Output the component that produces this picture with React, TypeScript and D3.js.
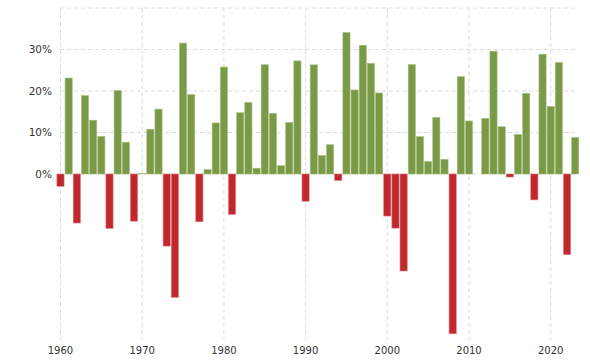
import React from 'react';
import * as d3 from 'd3';

const years = d3.range(1960, 2024);
// annual returns, %
const returns = [
  -2.97, 23.13, -11.81, 18.89, 12.97, 9.06, -13.09, 20.09, 7.66, -11.36,
  0.1, 10.79, 15.63, -17.37, -29.72, 31.55, 19.15, -11.5, 1.06, 12.31,
  25.77, -9.73, 14.76, 17.27, 1.4, 26.33, 14.62, 2.03, 12.4, 27.25,
  -6.56, 26.31, 4.46, 7.06, -1.54, 34.11, 20.26, 31.01, 26.67, 19.53,
  -10.14, -13.04, -23.37, 26.38, 8.99, 3.0, 13.62, 3.53, -38.49, 23.45,
  12.78, 0.0, 13.41, 29.6, 11.39, -0.73, 9.54, 19.42, -6.24, 28.88,
  16.26, 26.89, -19.44, 8.8,
];
const yTicks = [0, 10, 20, 30];
const xTicks = [1960, 1970, 1980, 1990, 2000, 2010, 2020];

const W = 590;
const H = 360;

export default function App() {
  const x = d3.scaleBand<number>().domain(years).range([56.4, 579.3]).paddingInner(0.12).paddingOuter(0.06);
  const y = d3.scaleLinear().domain([-40, 40]).range([340, 8]);
  const cx = (yr: number) => (x(yr) as number) + x.bandwidth() / 2;
  const gridLeft = 60;
  const gridRight = 578;

  return (
    <svg width={W} height={H} style={{ position: 'absolute', left: 0, top: 0 }}
      fontFamily="DejaVu Sans, Verdana, sans-serif">
      <rect width={W} height={H} fill="#fff" />
      {/* horizontal grid, positive side only */}
      {[...yTicks, 40].map(t => (
        <line key={'h' + t} x1={gridLeft} x2={gridRight} y1={y(t)} y2={y(t)}
          stroke="#dcdcdc" strokeDasharray="4,3" />
      ))}
      {xTicks.map(t => (
        <line key={'v' + t} x1={cx(t)} x2={cx(t)} y1={y(40)} y2={y(-40)}
          stroke="#dcdcdc" strokeDasharray="4,3" />
      ))}
      {returns.map((v, i) => (
        <rect key={years[i]} x={x(years[i])} width={x.bandwidth()}
          y={v >= 0 ? y(v) : y(0)} height={Math.abs(y(v) - y(0))}
          fill={v >= 0 ? '#7a9a48' : '#c0282d'}
          stroke={v >= 0 ? '#a7bf7e' : '#e07b7e'} strokeWidth={v === 0 ? 0 : 0.6} />
      ))}
      {yTicks.map(t => (
        <text key={'yl' + t} x={52} y={y(t)} dy="0.35em" textAnchor="end" fontSize={10.5} fill="#333">
          {t}%
        </text>
      ))}
      {xTicks.map(t => (
        <text key={'xl' + t} x={cx(t)} y={354} textAnchor="middle" fontSize={10} fill="#333">
          {t}
        </text>
      ))}
    </svg>
  );
}
